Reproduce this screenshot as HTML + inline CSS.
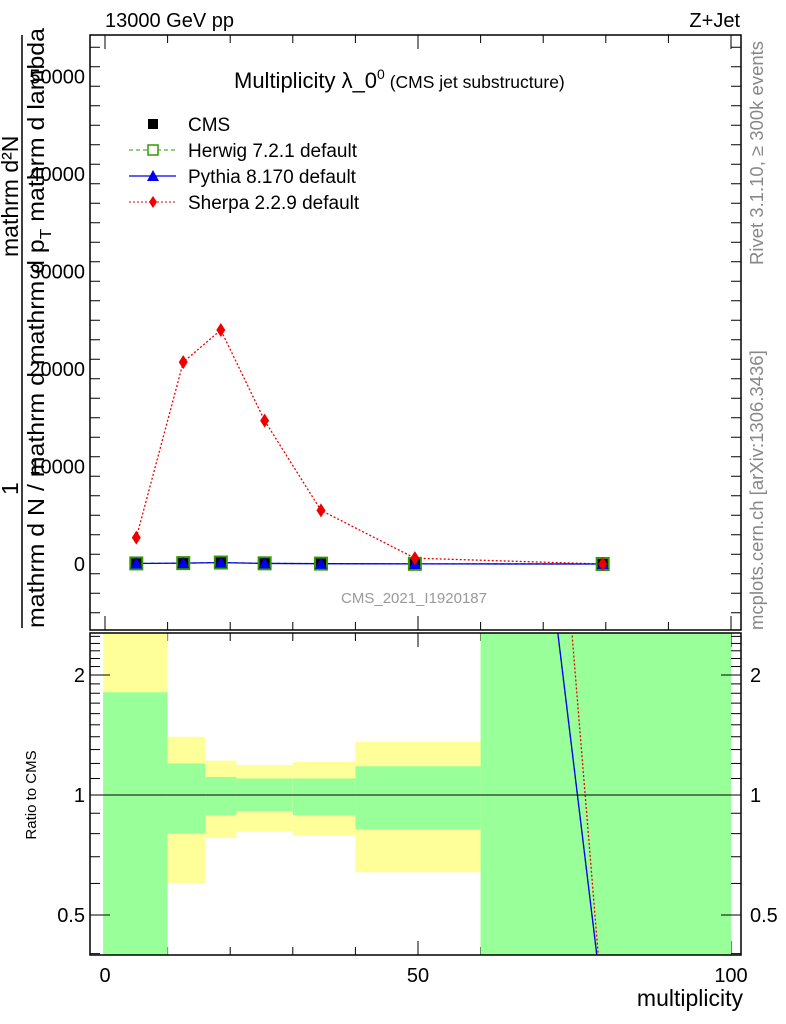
<!DOCTYPE html>
<html><head><meta charset="utf-8"><style>
html,body{margin:0;padding:0;background:#fff;overflow:hidden;width:786px;height:1024px;}
svg{display:block;}
svg text{font-family:"Liberation Sans",sans-serif;}
</style></head><body>
<svg id="chart" width="786" height="1024" xmlns="http://www.w3.org/2000/svg">
<text x="105" y="27" font-size="20">13000 GeV pp</text>
<text x="740" y="27" font-size="20" text-anchor="end">Z+Jet</text>
<g id="main"></g>
<g id="ratio"></g>
<text x="234" y="88" font-size="22">Multiplicity λ_0<tspan font-size="14" dy="-9">0</tspan><tspan font-size="17.5" dy="9"> (CMS jet substructure)</tspan></text>
<g>
<g><rect x="148" y="119" width="10" height="10" fill="#000"/><text x="188" y="131" font-size="19">CMS</text></g>
<g><line x1="129" y1="150" x2="176" y2="150" stroke="#339900" stroke-dasharray="4,3"/><rect x="148" y="145" width="10" height="10" fill="#fff" stroke="#339900" stroke-width="1.5"/><text x="188" y="157" font-size="19">Herwig 7.2.1 default</text></g>
<g><line x1="129" y1="176" x2="176" y2="176" stroke="#0000ee" stroke-width="1.2"/><polygon points="153,170 159,181 147,181" fill="#0000ee"/><text x="188" y="183" font-size="19">Pythia 8.170 default</text></g>
<g><line x1="129" y1="202" x2="176" y2="202" stroke="#ee0000" stroke-dasharray="2,2"/><polygon points="153,196 157,202 153,208 149,202" fill="#ee0000"/><text x="188" y="209" font-size="19">Sherpa 2.2.9 default</text></g>
</g>
<text x="414" y="603" font-size="15" fill="#999" text-anchor="middle">CMS_2021_I1920187</text>
<text transform="translate(763,265) rotate(-90)" font-size="18.5" fill="#888">Rivet 3.1.10, ≥ 300k events</text>
<text transform="translate(763,630) rotate(-90)" font-size="18.5" fill="#888">mcplots.cern.ch [arXiv:1306.3436]</text>
<g>
<line x1="22" y1="35" x2="22" y2="628" stroke="#000" stroke-width="1.5"/>
<text transform="translate(18,257) rotate(-90)" font-size="23">mathrm d²N</text>
<text transform="translate(18,495) rotate(-90)" font-size="23">1</text>
<text transform="translate(44,628) rotate(-90)" font-size="23" textLength="600" lengthAdjust="spacingAndGlyphs">mathrm d N / mathrm d mathrm d p<tspan font-size="16" dy="7">T</tspan><tspan dy="-7"> mathrm d lambda</tspan></text>
</g>
<text font-size="15" transform="translate(36,795) rotate(-90)" text-anchor="middle">Ratio to CMS</text>
<text x="743" y="1006" font-size="23" text-anchor="end">multiplicity</text>
</svg>
<script>
const xs=[5,12.5,18.5,25.5,34.5,49.5,79.5];
const cmsVals=[50,80,120,60,30,10,0];
const herwigVals=[60,90,150,70,40,15,0];
const pythiaVals=[50,90,140,60,30,10,0];
const sherpaVals=[2700,20700,24000,14700,5500,600,0];
const yTicks=[0,10000,20000,30000,40000,50000];
const xTicks=[0,50,100];
const binEdges=[-0.3,10,16,21,30,40,60,100];
const greenUp=[1.81,1.20,1.11,1.10,1.10,1.18,3];
const greenDn=[0.1,0.80,0.89,0.91,0.89,0.82,0.1];
const yellowUp=[3,1.40,1.22,1.19,1.21,1.36,3];
const yellowDn=[0.1,0.60,0.78,0.81,0.79,0.64,0.1];
const ratioX=[49.5,79.5];
const pythiaRatio=[2350,0.30];
const herwigRatio=[2300,0.30];
const sherpaRatio=[170000,0.29];
const ratioTicks=[0.5,1,2];

const NS="http://www.w3.org/2000/svg";
const L=90,R=741,T=35,B=630,RT=633,RB=955;
const X=v=>105+v*6.26;
const Y=v=>564-v*0.00975;
const RY=v=>795-Math.log2(v)*120;
function mk(p,tag,a){const e=document.createElementNS(NS,tag);for(const k in a)e.setAttribute(k,a[k]);p.appendChild(e);return e;}
const main=document.getElementById('main'),ratio=document.getElementById('ratio'),svg=document.getElementById('chart');
const defs=mk(svg,'defs',{});
const cp=mk(defs,'clipPath',{id:'rc'});mk(cp,'rect',{x:L,y:RT,width:R-L,height:RB-RT});
const cpm=mk(defs,'clipPath',{id:'mc'});mk(cpm,'rect',{x:L,y:T,width:R-L,height:B-T});

const bands=mk(ratio,'g',{'clip-path':'url(#rc)'});
for(let i=0;i<greenUp.length;i++){
  const x0=X(binEdges[i]),x1=X(binEdges[i+1]);
  let r=mk(bands,'rect',{x:x0,y:RY(yellowUp[i]),width:x1-x0,height:RY(yellowDn[i])-RY(yellowUp[i]),fill:'#ffff99'});
  
  
  r=mk(bands,'rect',{x:x0,y:RY(greenUp[i]),width:x1-x0,height:RY(greenDn[i])-RY(greenUp[i]),fill:'#99ff99'});
  
  
}
mk(ratio,'line',{x1:L,x2:R,y1:RY(1),y2:RY(1),stroke:'#000','stroke-width':1});
function rline(vals,col,dash,name){
  const e=mk(bands,'polyline',{points:ratioX.map((x,i)=>X(x)+','+RY(vals[i])).join(' '),fill:'none',stroke:col,'stroke-width':1.3,'stroke-dasharray':dash});
  
  
}
rline(herwigRatio,'#339900','4,3','herwig-ratio-line');
rline(pythiaRatio,'#0000ee','none','pythia-ratio-line');
rline(sherpaRatio,'#ee0000','2,2','sherpa-ratio-line');

mk(main,'rect',{x:L,y:T,width:R-L,height:B-T,fill:'none',stroke:'#000','stroke-width':1.5});
mk(ratio,'rect',{x:L,y:RT,width:R-L,height:RB-RT,fill:'none',stroke:'#000','stroke-width':1.5});

for(let v=-5000;v<=54000;v+=2000){const y=Y(v);if(y<T||y>B)continue;const maj=v%10000===0;
  mk(main,'line',{x1:L,x2:L+(maj?20:10),y1:y,y2:y,stroke:'#000'});mk(main,'line',{x1:R,x2:R-(maj?20:10),y1:y,y2:y,stroke:'#000'});}
yTicks.forEach(v=>{const t=mk(main,'text',{x:85,y:Y(v)+7,'font-size':20,'text-anchor':'end'});t.textContent=v;
  
  });
for(let v=0;v<=100;v+=10){const x=X(v);const maj=v%50===0;
  [[T,1],[B,-1],[RT,1],[RB,-1]].forEach(([y,d])=>mk(main,'line',{x1:x,x2:x,y1:y,y2:y+d*(maj?14:8),stroke:'#000'}));}
xTicks.forEach(v=>{const t=mk(ratio,'text',{x:X(v),y:982,'font-size':20,'text-anchor':'middle'});t.textContent=v;
  
  });
[0.4,0.5,0.6,0.7,0.8,0.9,1,1.1,1.2,1.3,1.4,1.5,1.6,1.7,1.8,1.9,2,2.1,2.2,2.3,2.4,2.5].forEach(v=>{const y=RY(v);if(y<RT||y>RB)return;const maj=[0.5,1,2].includes(v);
  mk(ratio,'line',{x1:L,x2:L+(maj?20:10),y1:y,y2:y,stroke:'#000'});mk(ratio,'line',{x1:R,x2:R-(maj?20:10),y1:y,y2:y,stroke:'#000'});});
ratioTicks.forEach(v=>{[[85,'end'],[750,'start']].forEach(([x,a])=>{const t=mk(ratio,'text',{x:x,y:RY(v)+7,'font-size':20,'text-anchor':a});t.textContent=v;
  
  });});

const g=mk(main,'g',{'clip-path':'url(#mc)'});
function line(vals,col,dash,name){const e=mk(g,'polyline',{points:xs.map((x,i)=>X(x)+','+Y(vals[i])).join(' '),fill:'none',stroke:col,'stroke-width':1.3,'stroke-dasharray':dash});
  
  }
line(sherpaVals,'#ee0000','2,2','sherpa-line');
line(herwigVals,'#339900','4,3','herwig-line');
line(pythiaVals,'#0000ee','none','pythia-line');
xs.forEach((x,i)=>{const cx=X(x);
  let e=mk(g,'rect',{x:cx-6,y:Y(cmsVals[i])-6,width:12,height:12,fill:'#000'});
  
  
  e=mk(g,'rect',{x:cx-6,y:Y(herwigVals[i])-6,width:12,height:12,fill:'none',stroke:'#339900','stroke-width':2});
  
  
  const py=Y(pythiaVals[i]);
  e=mk(g,'polygon',{points:`${cx},${py-6} ${cx+6},${py+5} ${cx-6},${py+5}`,fill:'#0000ee'});
  
  
  const sy=Y(sherpaVals[i]);
  e=mk(g,'polygon',{points:`${cx},${sy-7} ${cx+4.5},${sy} ${cx},${sy+7} ${cx-4.5},${sy}`,fill:'#ee0000'});
  
  
});
</script>
</body></html>
